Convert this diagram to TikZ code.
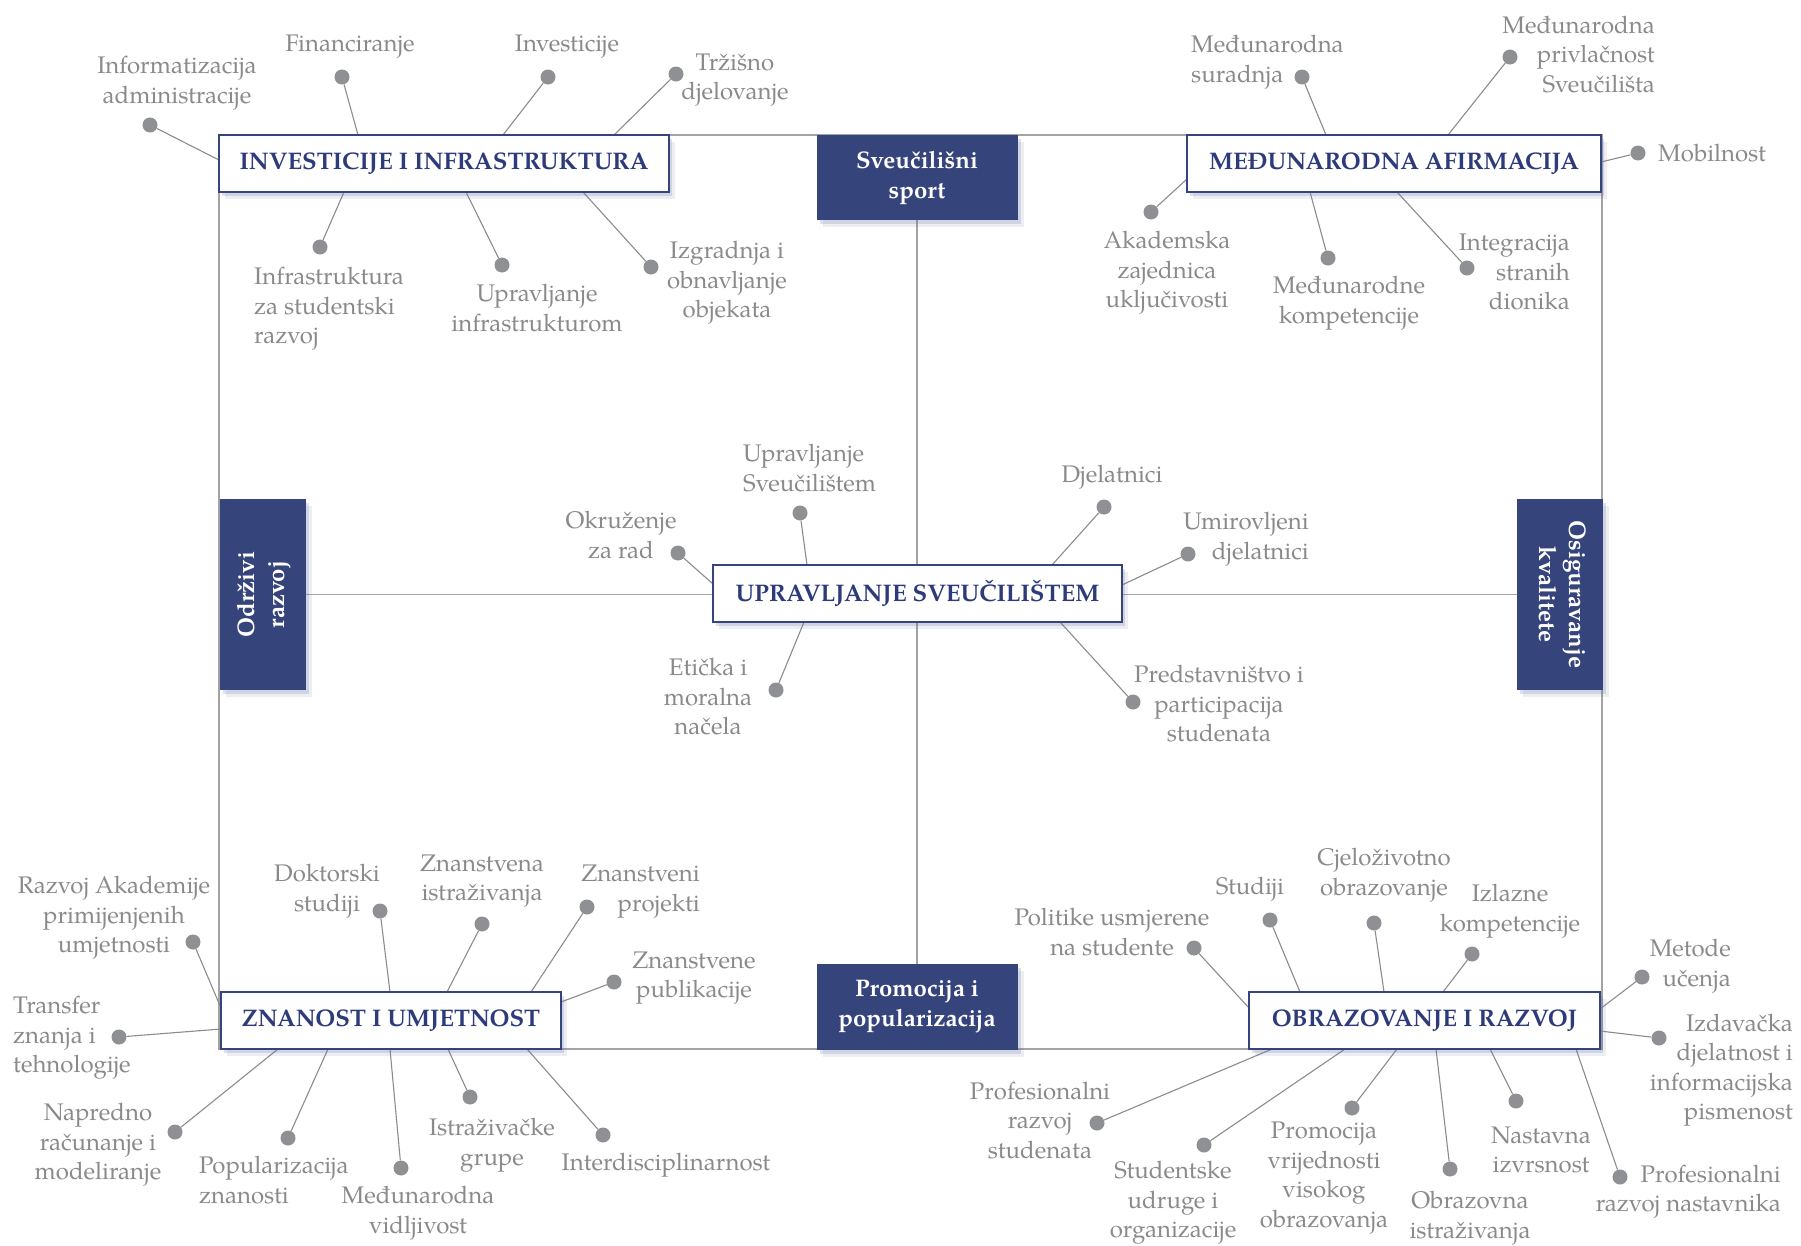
\documentclass[tikz,border=0pt]{standalone}
\usepackage{fontspec}
\setmainfont{TeX Gyre Pagella}
\usepackage{graphicx}
\usetikzlibrary{shadows,backgrounds}
\definecolor{navy}{HTML}{36447C}
\definecolor{navytext}{HTML}{2E3B7B}
\definecolor{leafgray}{HTML}{8A8A8A}
\definecolor{dotgray}{HTML}{8E9094}
\definecolor{framegray}{HTML}{A3A3A3}
\definecolor{conngray}{HTML}{8C8C8C}
\definecolor{shadowc}{HTML}{6A76A8}
\newcommand\leaffont{\fontsize{24}{29.5}\selectfont}
\newcommand\boxfont{\fontsize{24}{30}\selectfont\bfseries}
\newcommand\leaf[6]{%
  \node[dotmark] (d#1) at (#2) {};
  \coordinate (e#1) at (#3);
  \begin{scope}[on background layer]\draw[conn] (d#1) -- (e#1);\end{scope}
  \node[leaf,#5] (t#1) at (#4) {#6};
}
\begin{document}
\begin{tikzpicture}[x=1pt,y=-1pt,
  boxshadow/.style={drop shadow={shadow xshift=3pt,shadow yshift=-4pt,fill=shadowc,opacity=.22},
                    drop shadow={shadow xshift=6pt,shadow yshift=-7pt,fill=shadowc,opacity=.12}},
  leaf/.style={text=leafgray,font=\leaffont,inner sep=0pt,align=center},
  dotmark/.style={circle,fill=dotgray,minimum size=15pt,inner sep=0pt},
  conn/.style={draw=conngray,line width=1.1pt},
  framel/.style={draw=framegray,line width=1.3pt},
  wbox/.style={rectangle,draw=navy,line width=2pt,fill=white,text=navytext,font=\boxfont,inner sep=0pt,minimum height=57pt,boxshadow},
  dbox/.style={rectangle,fill=navy,text=white,font=\boxfont,inner sep=0pt,align=center,boxshadow}]
\useasboundingbox (0,0) rectangle (1801,1245);
\begin{scope}[on background layer]
\fill[white] (0,0) rectangle (1801,1245);
\draw[framel] (219,135) rectangle (1602,1049);
\end{scope}
% main boxes
\node[wbox,minimum width=450pt] (inv) at (444,163.5) {INVESTICIJE I INFRASTRUKTURA};
\node[wbox,minimum width=414pt] (med) at (1394,163.5) {MEĐUNARODNA AFIRMACIJA};
\node[wbox,minimum width=409pt] (upr) at (917.5,593.5) {UPRAVLJANJE SVEUČILIŠTEM};
\node[wbox,minimum width=340pt] (zna) at (391,1020.5) {ZNANOST I UMJETNOST};
\node[wbox,minimum width=351pt] (obr) at (1424.5,1020.5) {OBRAZOVANJE I RAZVOJ};
\node[dbox,minimum width=201pt,minimum height=85pt] (sport) at (917,177.5) {Sveučilišni\\sport};
\node[dbox,minimum width=201pt,minimum height=86pt] (promo) at (917,1007) {Promocija i\\popularizacija};
\node[dbox,minimum width=86pt,minimum height=191pt] (odr) at (263,594.5)
  {\rotatebox{90}{\begin{tabular}{@{}c@{}}Održivi\\razvoj\end{tabular}}};
\node[dbox,minimum width=86pt,minimum height=191pt] (osig) at (1560,594.5)
  {\rotatebox{-90}{\begin{tabular}{@{}c@{}}Osiguravanje\\kvalitete\end{tabular}}};
\begin{scope}[on background layer]
\draw[framel] (sport.south) -- (promo.north);
\draw[framel] (odr.east) -- (osig.west);
\end{scope}
% leaves
\leaf{1}{150,125}{219,160}{177,83}{}{Informatizacija\\administracije}
\leaf{2}{342,77}{358,135}{350,47}{}{Financiranje}
\leaf{3}{548,77}{503,135}{567,47}{}{Investicije}
\leaf{4}{676,74}{614,135}{735,80}{}{Tržišno\\djelovanje}
\leaf{5}{320,247}{344,192}{254,309}{anchor=west,align=left}{Infrastruktura\\za studentski\\razvoj}
\leaf{6}{502,265}{466,192}{537,308}{}{Upravljanje\\infrastrukturom}
\leaf{7}{651,267}{583,192}{727,283}{}{Izgradnja i\\obnavljanje\\objekata}
\leaf{8}{1302,77}{1326,135}{1191,62}{anchor=west,align=left}{Međunarodna\\suradnja}
\leaf{9}{1510,57}{1448,135}{1655,54.5}{anchor=east,align=right}{Međunarodna\\privlačnost\\Sveučilišta}
\leaf{10}{1638,153}{1601,162}{1658,153}{anchor=west}{Mobilnost}
\leaf{11}{1151,212}{1187,179}{1167,273}{}{Akademska\\zajednica\\uključivosti}
\leaf{12}{1328,258}{1310,192}{1349,303}{}{Međunarodne\\kompetencije}
\leaf{13}{1467,268}{1397,192}{1570,272}{anchor=east,align=right}{Integracija\\stranih\\dionika}
\leaf{14}{678,553}{713,584}{621,535}{}{Okruženje\\za rad}
\leaf{15}{800,513}{807,565}{743,468}{anchor=west,align=left}{Upravljanje\\Sveučilištem}
\leaf{16}{1104,507}{1052,565}{1112,477}{}{Djelatnici}
\leaf{17}{1188,554}{1122,585}{1309,539}{anchor=east,align=right}{Umirovljeni\\djelatnici}
\leaf{18}{776,690}{804,622}{708,697}{}{Etička i\\moralna\\načela}
\leaf{19}{1133,702}{1060,622}{1219,704}{}{Predstavništvo i\\participacija\\studenata}
\leaf{20}{193,942}{221,1008}{114,918}{}{Razvoj Akademije\\primijenjenih\\umjetnosti}
\leaf{21}{119,1037}{221,1029}{13,1038}{anchor=west,align=left}{Transfer\\znanja i\\tehnologije}
\leaf{22}{380,911}{390,992}{327,891}{}{Doktorski\\studiji}
\leaf{23}{482,924}{447,992}{482,881}{}{Znanstvena\\istraživanja}
\leaf{24}{587,907}{531,992}{700,891.5}{anchor=east,align=right}{Znanstveni\\projekti}
\leaf{25}{614,982}{561,1002}{694,978}{}{Znanstvene\\publikacije}
\leaf{26}{175,1132}{278,1049}{98,1145}{}{Napredno\\računanje i\\modeliranje}
\leaf{27}{288,1138}{328,1049}{199,1180}{anchor=west,align=left}{Popularizacija\\znanosti}
\leaf{28}{401,1168}{390,1049}{418,1213}{}{Međunarodna\\vidljivost}
\leaf{29}{470,1097}{448,1049}{492,1145}{}{Istraživačke\\grupe}
\leaf{30}{603,1135}{527,1049}{666,1165}{}{Interdisciplinarnost}
\leaf{31}{1194,948}{1249,1008}{1112,932}{}{Politike usmjerene\\na studente}
\leaf{32}{1270,920}{1300,992}{1250,889}{}{Studiji}
\leaf{33}{1374,923}{1384,992}{1384,875}{}{Cjeloživotno\\obrazovanje}
\leaf{34}{1472,954}{1443,992}{1510,911}{}{Izlazne\\kompetencije}
\leaf{35}{1642,977}{1600,1009}{1731,966}{anchor=east,align=right}{Metode\\učenja}
\leaf{36}{1659,1038}{1600,1031}{1793,1070}{anchor=east,align=right}{Izdavačka\\djelatnost i\\informacijska\\pismenost}
\leaf{37}{1097,1123}{1272,1049}{1040,1120}{}{Profesionalni\\razvoj\\studenata}
\leaf{38}{1204,1145}{1345,1049}{1173,1203}{}{Studentske\\udruge i\\organizacije}
\leaf{39}{1352,1108}{1397,1049}{1324,1178}{}{Promocija\\vrijednosti\\visokog\\obrazovanja}
\leaf{40}{1450,1169}{1436,1049}{1470,1218}{}{Obrazovna\\istraživanja}
\leaf{41}{1516,1101}{1490,1049}{1541,1150}{}{Nastavna\\izvrsnost}
\leaf{42}{1620,1177}{1576,1049}{1781,1191.5}{anchor=east,align=right}{Profesionalni\\razvoj nastavnika}
\end{tikzpicture}
\end{document}
